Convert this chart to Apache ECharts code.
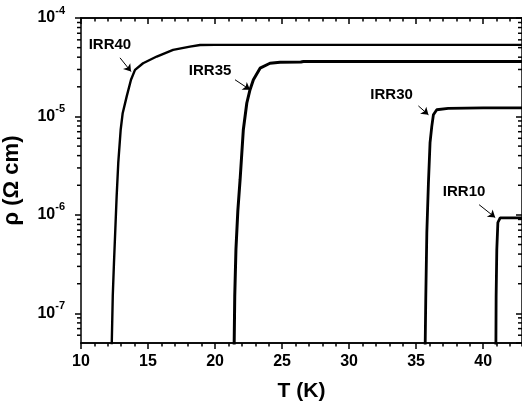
<!DOCTYPE html>
<html>
<head>
<meta charset="utf-8">
<script src="https://cdn.jsdelivr.net/npm/echarts@6/dist/echarts.min.js"></script>
<style>html,body{margin:0;padding:0;background:#fff;}#c{width:522px;height:402px;}</style>
</head>
<body>
<div id="c"></div>
<script>
// ---- data (T in K, rho in Ohm cm) ----
const T40 = [12.28, 12.37, 12.46, 12.56, 12.66, 12.78, 12.96, 13.11, 13.41, 13.73, 14.03, 14.63, 15.65, 16.87, 18.13, 18.88, 20, 25, 30, 35, 40, 42.9];
const R40 = [4e-8, 1.5e-7, 3.27e-7, 7.11e-7, 1.55e-6, 3.37e-6, 7.33e-6, 1.08e-5, 1.6e-5, 2.36e-5, 2.97e-5, 3.47e-5, 4.06e-5, 4.74e-5, 5.12e-5, 5.32e-5, 5.33e-5, 5.33e-5, 5.33e-5, 5.33e-5, 5.33e-5, 5.33e-5];
const T35 = [21.42, 21.47, 21.56, 21.70, 21.87, 22.11, 22.37, 22.61, 22.86, 23.36, 24.1, 24.85, 26.4, 26.6, 30, 35, 40, 42.9];
const R35 = [4e-8, 1.5e-7, 4.5e-7, 1.1e-6, 2.29e-6, 7.33e-6, 1.37e-5, 1.87e-5, 2.36e-5, 3.09e-5, 3.47e-5, 3.56e-5, 3.57e-5, 3.62e-5, 3.62e-5, 3.62e-5, 3.62e-5, 3.62e-5];
const T30 = [35.67, 35.72, 35.80, 35.92, 36.04, 36.17, 36.29, 36.54, 37.39, 40, 42.9];
const R30 = [4e-8, 1.39e-7, 6.64e-7, 2.13e-6, 5.42e-6, 7.93e-6, 1.04e-5, 1.17e-5, 1.21e-5, 1.22e-5, 1.22e-5];
const T10 = [40.95, 40.97, 41.02, 41.10, 41.27, 42.9];
const R10 = [4e-8, 1.5e-7, 4.46e-7, 8.37e-7, 9.35e-7, 9.35e-7];

const labelNames = ['IRR40', 'IRR35', 'IRR30', 'IRR10'];
const labelT = [12.16, 19.63, 33.17, 38.58];
const labelR = [5.32e-5, 2.92e-5, 1.66e-5, 1.70e-6];
// arrows: start (T, rho) -> end (T, rho)
const arrowFromT = [12.91, 21.49, 35.17, 39.70];
const arrowFromR = [3.94e-5, 2.36e-5, 1.28e-5, 1.27e-6];
const arrowToT = [13.73, 22.61, 35.92, 40.90];
const arrowToR = [2.86e-5, 1.87e-5, 1.04e-5, 9.42e-7];

const xMin = 10, xMax = 42.9, xMajor = 5, xMinor = 1;
const yMin = 5e-8, yMax = 1e-4;
const logMinorTicks = [6e-8, 7e-8, 8e-8, 9e-8,
  2e-7, 3e-7, 4e-7, 5e-7, 6e-7, 7e-7, 8e-7, 9e-7,
  2e-6, 3e-6, 4e-6, 5e-6, 6e-6, 7e-6, 8e-6, 9e-6,
  2e-5, 3e-5, 4e-5, 5e-5, 6e-5, 7e-5, 8e-5, 9e-5];

const FONT = '"Liberation Sans", Arial, Helvetica, sans-serif';
const TICK = '#000';
const zip = (a, b) => a.map((v, i) => [v, b[i]]);

const chart = echarts.init(document.getElementById('c'), null, {renderer: 'canvas'});

function xAx(pos, interval, len, inside, labels) {
  return {
    type: 'value', position: pos, min: xMin, max: xMax, interval: interval,
    axisLine: {show: true, onZero: false, lineStyle: {color: '#000', width: 1.5}},
    axisTick: {show: true, inside: inside, length: len, lineStyle: {color: TICK, width: 1.5}},
    axisLabel: labels ? {show: true, showMaxLabel: false, color: '#000', fontFamily: FONT, fontWeight: 'bold', fontSize: 16, margin: 11} : {show: false},
    splitLine: {show: false},
    name: labels ? 'T (K)' : '', nameLocation: 'middle', nameGap: 38,
    nameTextStyle: {color: '#000', fontFamily: FONT, fontWeight: 'bold', fontSize: 21}
  };
}

const option = {
  animation: false,
  backgroundColor: '#fff',
  grid: {left: 81, top: 18, right: 0, bottom: 59, containLabel: false, outerBoundsMode: 'none'},
  xAxis: [
    xAx('bottom', xMajor, 6, false, true),
    xAx('bottom', xMinor, 3.5, false, false),
    xAx('top', xMajor, 6, true, false),
    xAx('top', xMinor, 3.5, true, false)
  ],
  yAxis: [
    {
      type: 'log', logBase: 10, min: yMin, max: yMax, position: 'left',
      axisLine: {show: true, onZero: false, lineStyle: {color: '#000', width: 1.5}},
      axisTick: {show: true, inside: false, length: 6, lineStyle: {color: TICK, width: 1.5}},
      minorTick: {show: false},
      splitLine: {show: false},
      axisLabel: {
        show: true, showMinLabel: false, margin: 16, color: '#000',
        formatter: function (v) {
          const l = Math.log10(v);
          const e = Math.round(l);
          if (Math.abs(l - e) > 0.01) return '';
          return '{b|10}{s|' + e + '}';
        },
        rich: {
          b: {fontFamily: FONT, fontWeight: 'bold', fontSize: 16, lineHeight: 26, color: '#000'},
          s: {fontFamily: FONT, fontWeight: 'bold', fontSize: 11, lineHeight: 11, verticalAlign: 'top', color: '#000'}
        }
      },
      name: 'ρ (Ω cm)', nameLocation: 'middle', nameGap: 58, nameRotate: 90,
      nameTextStyle: {color: '#000', fontFamily: FONT, fontWeight: 'bold', fontSize: 22}
    },
    {
      type: 'log', logBase: 10, min: yMin, max: yMax, position: 'right',
      axisLine: {show: true, onZero: false, lineStyle: {color: '#000', width: 1.5}},
      axisTick: {show: true, inside: true, length: 6, lineStyle: {color: TICK, width: 1.5}},
      axisLabel: {show: false},
      splitLine: {show: false}
    }
  ],
  series: [
    {type: 'line', name: 'IRR40', data: zip(T40, R40), showSymbol: false, symbol: 'none', lineStyle: {color: '#000', width: 2.4}, silent: true},
    {type: 'line', name: 'IRR35', data: zip(T35, R35), showSymbol: false, symbol: 'none', lineStyle: {color: '#000', width: 3}, silent: true},
    {type: 'line', name: 'IRR30', data: zip(T30, R30), showSymbol: false, symbol: 'none', lineStyle: {color: '#000', width: 2.8}, silent: true},
    {type: 'line', name: 'IRR10', data: zip(T10, R10), showSymbol: false, symbol: 'none', lineStyle: {color: '#000', width: 2.8}, silent: true},
    {
      type: 'scatter', name: 'leftMinor', data: logMinorTicks.map(v => [xMin, v]), clip: false, silent: true,
      symbol: 'rect', symbolSize: [4, 1.5], symbolOffset: [-2, 0], itemStyle: {color: TICK, opacity: 1}
    },
    {
      type: 'scatter', name: 'rightMinor', data: logMinorTicks.map(v => [xMax, v]), clip: false, silent: true,
      symbol: 'rect', symbolSize: [4, 1.5], symbolOffset: [-2, 0], itemStyle: {color: TICK, opacity: 1}
    },
    {
      type: 'scatter', name: 'labels', clip: false, silent: true,
      data: labelNames.map((n, i) => ({name: n, value: [labelT[i], labelR[i]]})),
      symbolSize: 0.5, itemStyle: {color: '#000', opacity: 1},
      label: {show: true, position: 'inside', formatter: '{b}', color: '#000', opacity: 1, textBorderWidth: 0, fontFamily: FONT, fontWeight: 'bold', fontSize: 15},
      markLine: {
        silent: true, animation: false, symbol: ['none', 'arrow'], symbolSize: 7,
        lineStyle: {color: '#000', width: 1, type: 'solid', opacity: 1}, label: {show: false},
        emphasis: {disabled: true},
        data: labelNames.map((n, i) => [{coord: [arrowFromT[i], arrowFromR[i]]}, {coord: [arrowToT[i], arrowToR[i]]}])
      }
    }
  ]
};
chart.setOption(option);
</script>
</body>
</html>
